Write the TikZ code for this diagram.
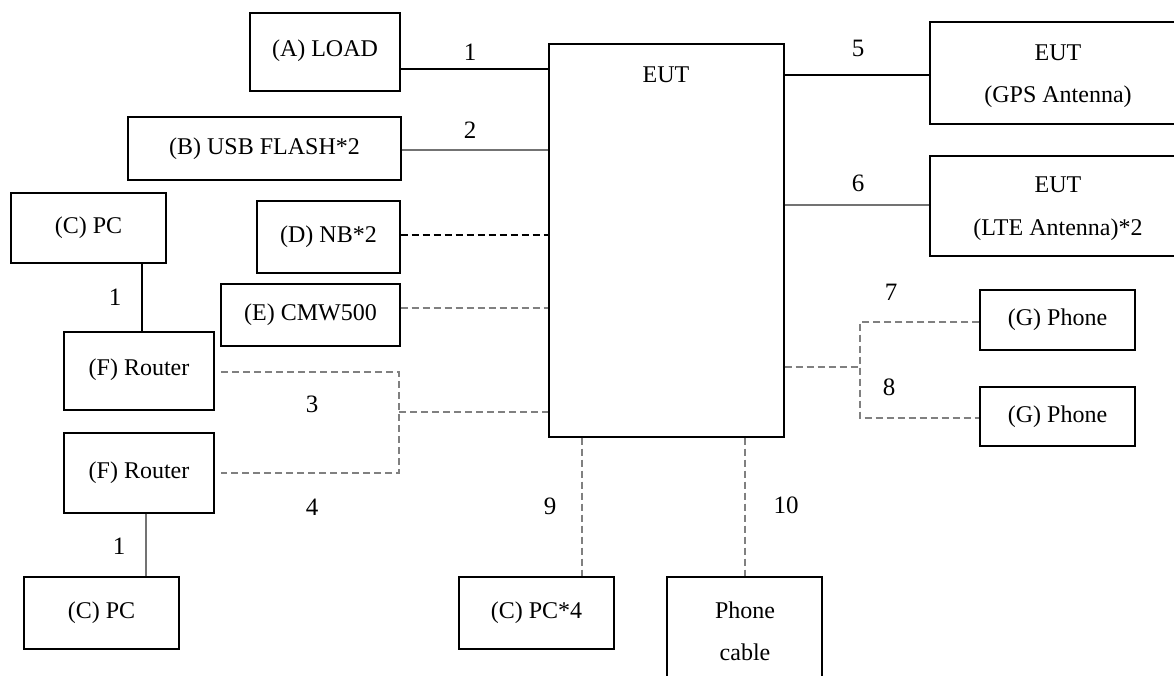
\documentclass[tikz,border=0pt]{standalone}
\usepackage{fontspec}
\setmainfont{Liberation Serif}
\begin{document}
\begin{tikzpicture}[x=1pt,y=-1pt,
  box/.style={draw=black,line width=1.4pt,inner sep=0pt,font=\fontsize{24}{28}\selectfont,align=center},
  txt/.style={font=\fontsize{24}{28}\selectfont,inner sep=0pt},
  lbl/.style={font=\fontsize{25}{29}\selectfont,inner sep=0pt},
  solidk/.style={draw=black,line width=1.4pt},
  solidg/.style={draw=black!55,line width=1.4pt},
  dashk/.style={draw=black,line width=1.2pt,dash pattern=on 7pt off 4pt},
  dashg/.style={draw=black!50,line width=1.2pt,dash pattern=on 7pt off 4pt}]
\path[use as bounding box] (0,0) rectangle (1174,675);
\clip (0,0) rectangle (1174,675);
\fill[white] (0,0) rectangle (1174,675);
% boxes
\node[box,minimum width=150,minimum height=78] (A) at (325,52) {\raisebox{7pt}{(A) LOAD}};
\node[box,minimum width=273,minimum height=63] (B) at (264.5,148.5) {(B) USB FLASH*2};
\node[box,minimum width=155,minimum height=70] (C1) at (88.5,228) {\raisebox{3pt}{(C) PC}};
\node[box,minimum width=143,minimum height=72] (D) at (328.5,237) {\raisebox{3pt}{(D) NB*2}};
\node[box,minimum width=179,minimum height=62] (E) at (310.5,315) {(E) CMW500};
\node[box,minimum width=150,minimum height=78] (F1) at (139,371) {\raisebox{8pt}{(F) Router}};
\node[box,minimum width=150,minimum height=80] (F2) at (139,473) {\raisebox{6pt}{(F) Router}};
\node[box,minimum width=155,minimum height=72] (C2) at (101.5,613) {\raisebox{3pt}{(C) PC}};
\node[box,minimum width=155,minimum height=72] (PC4) at (536.5,613) {\raisebox{3pt}{(C) PC*4}};
\node[box,minimum width=155,minimum height=130] (PCab) at (744.5,642) {};
\node[txt] (PCabT1) at (745,610) {Phone};
\node[txt] (PCabT2) at (745,652) {cable};
\node[box,minimum width=235,minimum height=393] (EUT) at (666.5,240.5) {};
\node[txt] (EUTT) at (666,75) {EUT};
\node[box,minimum width=270,minimum height=102] (GPS) at (1065,73) {};
\node[txt] (GPST1) at (1058,53) {EUT};
\node[txt] (GPST2) at (1058,97) {(GPS Antenna)};
\node[box,minimum width=270,minimum height=100] (LTE) at (1065,206) {};
\node[txt] (LTET1) at (1058,185) {EUT};
\node[txt] (LTET2) at (1058,230) {(LTE Antenna)*2};
\node[box,minimum width=155,minimum height=60] (G1) at (1057.5,320) {(G) Phone};
\node[box,minimum width=155,minimum height=59] (G2) at (1057.5,416.5) {(G) Phone};
% helper coordinates
\coordinate (y69) at (0,69);
\coordinate (y150) at (0,150);
\coordinate (y235) at (0,235);
\coordinate (y308) at (0,308);
\coordinate (y75) at (0,75);
\coordinate (y205) at (0,205);
\coordinate (y367) at (0,367);
\coordinate (j3a) at (399,372);
\coordinate (j3b) at (399,473);
\coordinate (j3m) at (399,412);
\coordinate (f1o) at (221,372);
\coordinate (f2o) at (221,473);
\coordinate (j7a) at (860,322);
\coordinate (j7b) at (860,418);
\coordinate (j7m) at (860,367);
\coordinate (x582) at (582,0);
\coordinate (x745) at (745,0);
\coordinate (x142) at (142,0);
\coordinate (x146) at (146,0);
% connectors
\draw[solidk] (A.east |- y69) -- (EUT.west |- y69);
\draw[solidg] (B.east |- y150) -- (EUT.west |- y150);
\draw[dashk] (D.east |- y235) -- (EUT.west |- y235);
\draw[dashg] (E.east |- y308) -- (EUT.west |- y308);
\draw[solidk] (C1.south -| x142) -- (F1.north -| x142);
\draw[solidg] (F2.south -| x146) -- (C2.north -| x146);
\draw[dashg] (f1o) -- (j3a) -- (j3b) -- (f2o);
\draw[dashg] (j3m) -- (EUT.west |- j3m);
\draw[solidk] (EUT.east |- y75) -- (GPS.west |- y75);
\draw[solidg] (EUT.east |- y205) -- (LTE.west |- y205);
\draw[dashg] (EUT.east |- y367) -- (j7m);
\draw[dashg] (G1.west |- j7a) -- (j7a) -- (j7b) -- (G2.west |- j7b);
\draw[dashg] (EUT.south -| x582) -- (PC4.north -| x582);
\draw[dashg] (EUT.south -| x745) -- (PCab.north -| x745);
% labels
\node[lbl] (l1) at (470,52) {1};
\node[lbl] (l2) at (470,130) {2};
\node[lbl] (l3) at (312,404) {3};
\node[lbl] (l4) at (312,507) {4};
\node[lbl] (l1b) at (115,297) {1};
\node[lbl] (l1c) at (119,546) {1};
\node[lbl] (l5) at (858,48) {5};
\node[lbl] (l6) at (858,183) {6};
\node[lbl] (l7) at (891,292) {7};
\node[lbl] (l8) at (889,387) {8};
\node[lbl] (l9) at (550,506) {9};
\node[lbl] (l10) at (786,505) {10};
\end{tikzpicture}
\end{document}
